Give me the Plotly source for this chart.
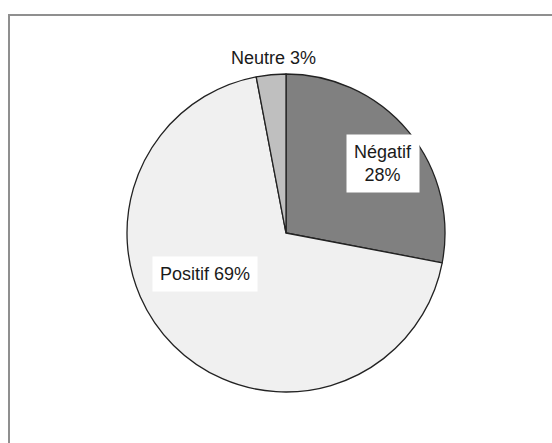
import plotly.graph_objects as go

categories = ["Négatif", "Positif", "Neutre"]
values = [28, 69, 3]
colors = ["#808080", "#f0f0f0", "#bfbfbf"]
label_texts = ["Négatif<br>28%", "Positif 69%", "Neutre 3%"]

W, H = 552, 443

def px(x):
    return x / W

def py(y):
    return 1 - y / H

cx, cy, r = 286, 233, 159

fig = go.Figure(go.Pie(
    labels=categories,
    values=values,
    sort=False,
    direction="clockwise",
    rotation=0,
    marker=dict(colors=colors, line=dict(color="#222222", width=1.3)),
    textinfo="none",
    hoverinfo="label+percent",
    showlegend=False,
    domain=dict(x=[px(cx - r), px(cx + r)], y=[py(cy + r), py(cy - r)]),
))

label_pos = [(383, 163), (205, 274), (273, 58)]
label_pads = [7, 7, 2]
for txt, (lx, ly), pad in zip(label_texts, label_pos, label_pads):
    fig.add_annotation(
        x=px(lx), y=py(ly), xref="paper", yref="paper",
        text=txt, showarrow=False,
        font=dict(family="Liberation Sans, Arial, sans-serif", size=18, color="#1a1a1a"),
        bgcolor="white", borderpad=pad, align="center",
        xanchor="center", yanchor="middle",
    )

fig.add_shape(type="rect", xref="paper", yref="paper",
              x0=px(9), y0=py(460), x1=px(570), y1=py(15),
              line=dict(color="#8f8f8f", width=2), fillcolor="rgba(0,0,0,0)", layer="below")

fig.update_layout(
    width=W, height=H,
    margin=dict(l=0, r=0, t=0, b=0),
    paper_bgcolor="white", plot_bgcolor="white",
)

fig.write_html(
    "out.html",
    config={"displayModeBar": False},
    post_script="document.body.style.margin='0';document.body.style.padding='0';document.body.style.overflow='hidden';",
)
